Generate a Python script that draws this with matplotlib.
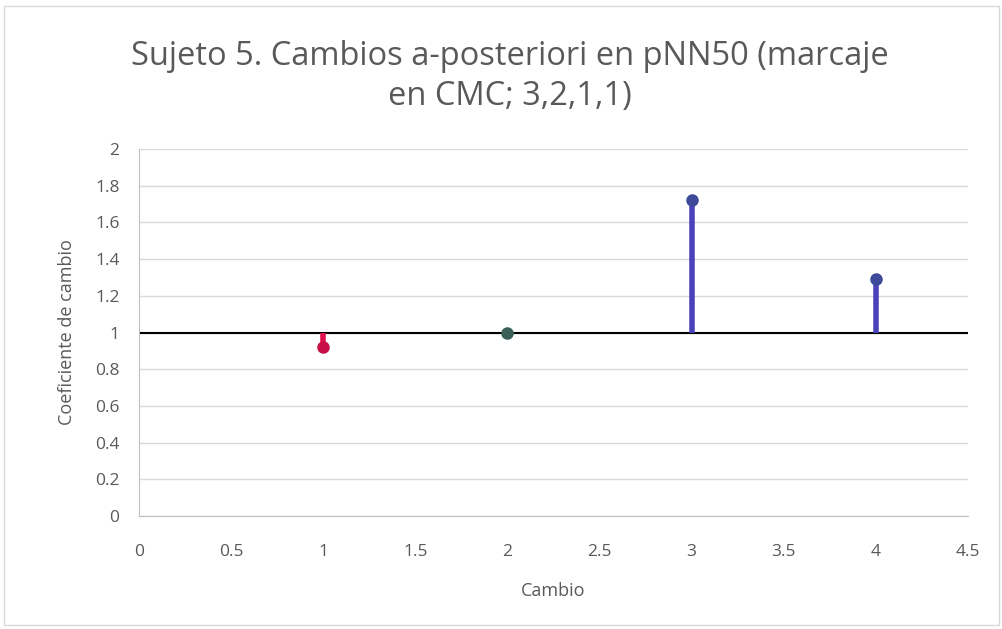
import matplotlib.pyplot as plt
from matplotlib.patches import Rectangle

# data
cambio = [1, 2, 3, 4]
coef = [0.92, 1.0, 1.72, 1.29]
stem_colors = ["#e0104a", "#2f6e55", "#4a42b8", "#4a42b8"]
marker_colors = ["#c81048", "#3a6058", "#3f4a9a", "#3f4a9a"]

xticks = [0, 0.5, 1, 1.5, 2, 2.5, 3, 3.5, 4, 4.5]
yticks = [0, 0.2, 0.4, 0.6, 0.8, 1, 1.2, 1.4, 1.6, 1.8, 2]

plt.rcParams["font.family"] = ["Open Sans", "DejaVu Sans"]

fig = plt.figure(figsize=(10.03, 6.29), dpi=100)
ax = fig.add_axes([0.1386, 0.1797, 0.8264, 0.5833])

# outer chart frame
fig.patches.append(Rectangle((0.004, 0.006), 0.992, 0.985, transform=fig.transFigure,
                             fill=False, edgecolor="#d9d9d9", linewidth=1))

ax.set_xlim(0, 4.5)
ax.set_ylim(0, 2)
ax.set_xticks(xticks)
ax.set_yticks(yticks)
ax.set_xticklabels([f"{t:g}" for t in xticks])
ax.set_yticklabels([f"{t:g}" for t in yticks])
ax.tick_params(length=0, labelsize=12.5, labelcolor="#595959")
ax.tick_params(axis="x", pad=20)
ax.tick_params(axis="y", pad=14)

ax.grid(axis="y", color="#d9d9d9", linewidth=1)
ax.set_axisbelow(True)
for side in ["top", "right"]:
    ax.spines[side].set_visible(False)
for side in ["left", "bottom"]:
    ax.spines[side].set_color("#bfbfbf")

# baseline at 1
ax.axhline(1, color="black", linewidth=1.5, zorder=2)

for x, y, c, mc in zip(cambio, coef, stem_colors, marker_colors):
    ax.vlines(x, 1, y, color=c, linewidth=4, zorder=3)
    ax.plot(x, y, "o", color=mc, markersize=8, zorder=4)

ax.set_xlabel("Cambio", fontsize=13, color="#595959", labelpad=16)
ax.set_ylabel("Coeficiente de cambio", fontsize=13, color="#595959", labelpad=14)
fig.text(0.508, 0.878, "Sujeto 5. Cambios a-posteriori en pNN50 (marcaje\nen CMC; 3,2,1,1)",
         ha="center", va="center", fontsize=23.5, color="#595959", linespacing=1.3)

fig.savefig("out.png", dpi=100)
